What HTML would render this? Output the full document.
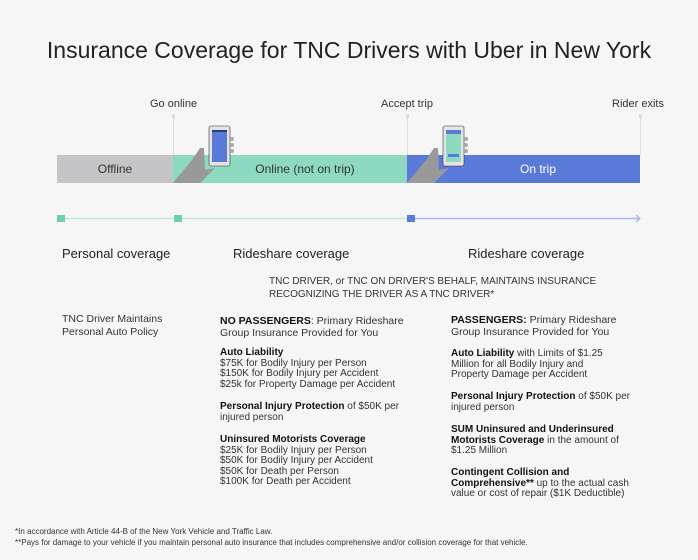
<!DOCTYPE html>
<html><head><meta charset="utf-8"><style>
body{margin:0;width:698px;height:560px;background:#f6f6f6;font-family:"Liberation Sans",sans-serif;color:#222;position:relative;overflow:hidden}
.a{position:absolute;white-space:nowrap}
.s{font-size:10px;line-height:10.6px;color:#333}
b{font-weight:bold;color:#111}
.h{font-size:13px}
.bl{font-size:12px;text-align:center;top:162px}
</style></head><body>
<div class="a" style="left:0;width:698px;top:37px;text-align:center;font-size:23px;color:#222">Insurance Coverage for TNC Drivers with Uber in New York</div>
<div class="a s" style="left:150px;top:99px;font-size:11px">Go online</div>
<div class="a s" style="left:381px;top:99px;font-size:11px">Accept trip</div>
<div class="a s" style="left:612px;top:99px;font-size:11px">Rider exits</div>
<svg class="a" style="left:0;top:0" width="698" height="240">
<g stroke="#ddd" stroke-width="1"><line x1="173.5" y1="116" x2="173.5" y2="155"/><line x1="407.5" y1="116" x2="407.5" y2="155"/><line x1="640.5" y1="116" x2="640.5" y2="155"/></g>
<g fill="#ddd"><rect x="172" y="114" width="3" height="4"/><rect x="406" y="114" width="3" height="4"/><rect x="639" y="114" width="3" height="4"/></g>
<rect x="57" y="155" width="116" height="28" fill="#c5c5c7"/>
<rect x="173" y="155" width="234" height="28" fill="#8dd9c1"/>
<rect x="407" y="155" width="233" height="28" fill="#5a7ad9"/>
<polygon points="173,183 192,160 200,148 204,148 205,170 215,168 200,183" fill="#999"/>
<rect x="209" y="126" width="21" height="40" rx="2" fill="#e4e4e4" stroke="#333" stroke-width="0.6"/>
<rect x="212" y="130" width="15" height="32" fill="#5a7ad9"/><rect x="212" y="130" width="15" height="2" fill="#2a3a80"/>
<g fill="#aaa"><circle cx="232" cy="139" r="2"/><circle cx="232" cy="145" r="2"/><circle cx="232" cy="151" r="2"/></g>
<polygon points="407,183 426,160 434,148 438,148 439,170 449,168 434,183" fill="#999"/>
<rect x="443" y="126" width="21" height="40" rx="2" fill="#e4e4e4" stroke="#333" stroke-width="0.6"/>
<rect x="446" y="130" width="15" height="32" fill="#8dd9c1"/><rect x="446" y="130" width="15" height="4" fill="#5a7ad9"/><rect x="448" y="154" width="11" height="3" fill="#5a7ad9"/>
<g fill="#aaa"><circle cx="466" cy="139" r="2"/><circle cx="466" cy="145" r="2"/><circle cx="466" cy="151" r="2"/></g>
<line x1="61" y1="218.5" x2="411" y2="218.5" stroke="#bfe8da" stroke-width="1.5"/>
<line x1="411" y1="218.5" x2="639" y2="218.5" stroke="#a9b9ec" stroke-width="1.5"/>
<polyline points="636,215 640,218.5 636,222" fill="none" stroke="#8fa3e6" stroke-width="1"/>
<rect x="57" y="215" width="8" height="7" fill="#6fcdb0"/>
<rect x="174" y="215" width="8" height="7" fill="#6fcdb0"/>
<rect x="407" y="215" width="8" height="7" fill="#5a7ad9"/>
</svg>
<div class="a bl" style="left:57px;width:116px;color:#333">Offline</div>
<div class="a bl" style="left:225px;width:160px;color:#333">Online (not on trip)</div>
<div class="a bl" style="left:458px;width:160px;color:#fff">On trip</div>
<div class="a h" style="left:62px;top:246px">Personal coverage</div>
<div class="a h" style="left:233px;top:246px">Rideshare coverage</div>
<div class="a h" style="left:468px;top:246px">Rideshare coverage</div>
<div class="a" style="left:269px;top:275px;font-size:10px;line-height:13px;color:#333">TNC DRIVER, or TNC ON DRIVER'S BEHALF, MAINTAINS INSURANCE<br>RECOGNIZING THE DRIVER AS A TNC DRIVER*</div>
<div class="a" style="left:62px;top:313px;font-size:10.5px;line-height:13px;color:#333">TNC Driver Maintains<br>Personal Auto Policy</div>
<div class="a" style="left:220px;top:315px;font-size:10.5px;line-height:12px;color:#333"><b>NO PASSENGERS</b>: Primary Rideshare<br>Group Insurance Provided for You</div>
<div class="a s" style="left:220px;top:348px"><b>Auto Liability</b><br>$75K for Bodily Injury per Person<br>$150K for Bodily Injury per Accident<br>$25k for Property Damage per Accident</div>
<div class="a s" style="left:220px;top:402px"><b>Personal Injury Protection</b> of $50K per<br>injured person</div>
<div class="a s" style="left:220px;top:435px"><b>Uninsured Motorists Coverage</b><br>$25K for Bodily Injury per Person<br>$50K for Bodily Injury per Accident<br>$50K for Death per Person<br>$100K for Death per Accident</div>
<div class="a" style="left:451px;top:314px;font-size:10.5px;line-height:12px;color:#333"><b>PASSENGERS:</b> Primary Rideshare<br>Group Insurance Provided for You</div>
<div class="a s" style="left:451px;top:349px"><b>Auto Liability</b> with Limits of $1.25<br>Million for all Bodily Injury and<br>Property Damage per Accident</div>
<div class="a s" style="left:451px;top:392px"><b>Personal Injury Protection</b> of $50K per<br>injured person</div>
<div class="a s" style="left:451px;top:425px"><b>SUM Uninsured and Underinsured<br>Motorists Coverage</b> in the amount of<br>$1.25 Million</div>
<div class="a s" style="left:451px;top:468px"><b>Contingent Collision and<br>Comprehensive**</b> up to the actual cash<br>value or cost of repair ($1K Deductible)</div>
<div class="a" style="left:15px;top:526px;font-size:8px;line-height:11px;color:#333">*In accordance with Article 44-B of the New York Vehicle and Traffic Law.<br>**Pays for damage to your vehicle if you maintain personal auto insurance that includes comprehensive and/or collision coverage for that vehicle.</div>
</body></html>
